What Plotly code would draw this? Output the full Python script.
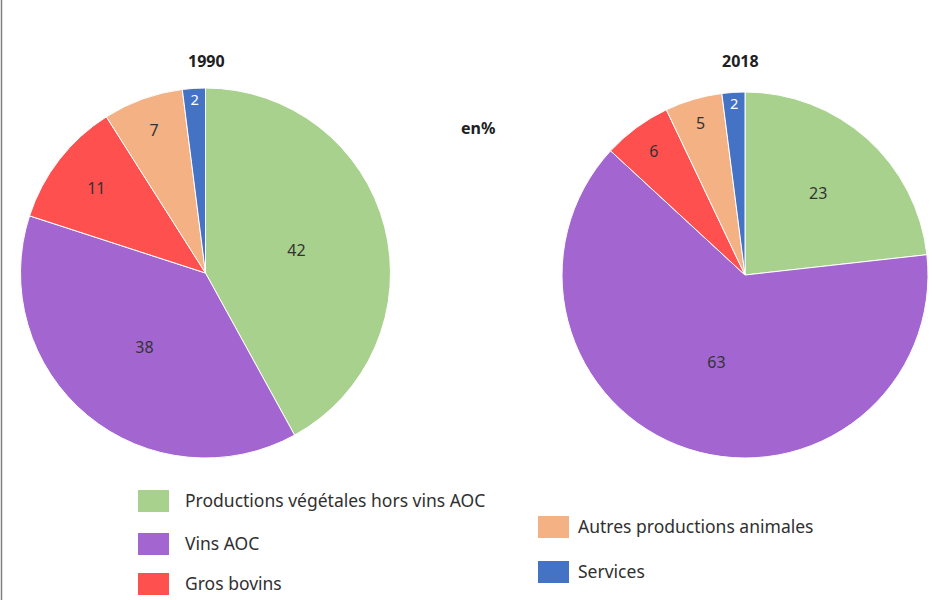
import plotly.graph_objects as go

categories = ["Productions végétales hors vins AOC", "Vins AOC", "Gros bovins",
              "Autres productions animales", "Services"]
values_1990 = [42, 38, 11, 7, 2]
values_2018 = [23, 63, 6, 5, 2]
colors = ["#A9D18E", "#A366D1", "#FF5050", "#F4B183", "#4472C4"]
text_colors = ["#333333", "#333333", "#333333", "#333333", "#ffffff"]

W, H = 937, 600
FONT = "Noto Sans"

def px_x(x):
    return x / W

def px_y(y):
    return 1 - y / H

fig = go.Figure()

for vals, dom in [(values_1990, dict(x=[px_x(20), px_x(391)], y=[px_y(458), px_y(88)])),
                  (values_2018, dict(x=[px_x(562), px_x(928)], y=[px_y(458), px_y(92)]))]:
    fig.add_trace(go.Pie(
        labels=categories, values=vals, sort=False, direction="clockwise",
        rotation=0, domain=dom, showlegend=False,
        marker=dict(colors=colors, line=dict(color="white", width=1)),
        textinfo="value", textposition="inside", insidetextorientation="horizontal",
        textfont=dict(family=FONT, size=16, color=text_colors),
        hoverinfo="label+value",
    ))

annotations = [
    dict(text="<b>1990</b>", x=px_x(206), y=px_y(61)),
    dict(text="<b>2018</b>", x=px_x(740), y=px_y(61)),
    dict(text="<b>en%</b>", x=px_x(478), y=px_y(128)),
]
for a in annotations:
    a.update(xref="paper", yref="paper", showarrow=False, xanchor="center", yanchor="middle",
             font=dict(family=FONT, size=16, color="#202020"))

# manual two-column legend: (square left, square centre y, text left)
shapes = [dict(type="line", xref="paper", yref="paper", x0=px_x(1.5), x1=px_x(1.5),
               y0=0, y1=1, line=dict(color="#808080", width=1.5))]
legend_pos = [(138, 501, 183), (138, 544, 183), (138, 584, 183), (538, 527, 576), (538, 572, 576)]
for cat, col, (lx, ly, tx) in zip(categories, colors, legend_pos):
    shapes.append(dict(type="rect", xref="paper", yref="paper",
                       x0=px_x(lx), x1=px_x(lx + 31), y0=px_y(ly + 11), y1=px_y(ly - 11),
                       fillcolor=col, line=dict(width=0)))
    annotations.append(dict(text=cat, x=px_x(tx), y=px_y(ly - 1), xref="paper", yref="paper",
                            xanchor="left", yanchor="middle", showarrow=False,
                            font=dict(family=FONT, size=17.5, color="#303030")))

fig.update_layout(
    width=W, height=H, margin=dict(l=0, r=0, t=0, b=0),
    paper_bgcolor="white", plot_bgcolor="white",
    annotations=annotations, shapes=shapes,
)

fig.write_html("out.html", config={"displayModeBar": False},
               post_script="document.body.style.margin='0';")
